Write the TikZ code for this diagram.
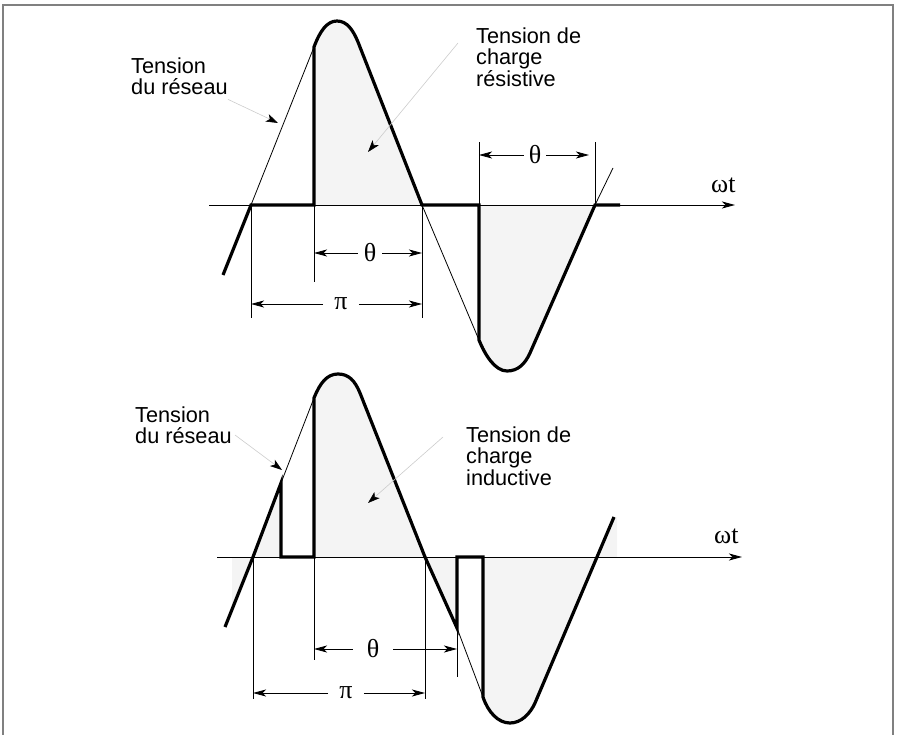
\documentclass[tikz,border=0pt]{standalone}
\usepackage{fontspec}
\setmainfont{Liberation Sans}
\newfontfamily\greekrm{Liberation Serif}
\usepackage{tikz}
\usetikzlibrary{arrows.meta}
\definecolor{lobe}{HTML}{f4f4f4}
\definecolor{framegray}{HTML}{808080}
\definecolor{leadgray}{HTML}{cccccc}

\begin{document}
\begin{tikzpicture}[x=1pt, y=-1pt,
  wave/.style={line width=3.2pt},
  net/.style={line width=0.8pt},
  tick/.style={line width=0.8pt},
  axis/.style={line width=0.9pt, -{Stealth[length=13pt,width=7pt,inset=3.5pt]}},
  dim/.style={line width=0.8pt, -{Stealth[length=13pt,width=7pt,inset=3.5pt]}},
  lead/.style={leadgray, line width=0.6pt, -{Stealth[length=12pt,width=8pt,inset=3pt,black]}},
  lbl/.style={font=\fontsize{21.7}{21.5}\selectfont, align=left, anchor=north west, inner sep=0pt},
  sym/.style={font=\greekrm\fontsize{26}{26}\selectfont, inner ysep=0pt}]
  \useasboundingbox (0,0) rectangle (897,735);

  % frame
  \draw[framegray, line width=1.5pt] (3,735) -- (3,5) -- (893,5) -- (893,735);

  % ---------------- resistive load (top) ----------------
  \coordinate (a0) at (223,275);
  \coordinate (z1) at (251,205);
  \coordinate (l1) at (314,47);
  \coordinate (r1) at (358,42);
  \coordinate (z2) at (422,205);
  \coordinate (l2) at (479,340);
  \coordinate (r2) at (530,353);
  \coordinate (z3) at (595,205);
  \coordinate (e3) at (613,168);

  % conducting lobes
  \fill[lobe] (314,205) -- (l1) .. controls (320,31) and (327,21) .. (337,21)
    .. controls (347,21) and (353,30) .. (r1) -- (z2) -- cycle;
  \fill[lobe] (479,205) -- (l2) .. controls (485,355) and (495,371) .. (507,371)
    .. controls (518,371) and (525,364) .. (r2) -- (z3) -- cycle;

  \draw[axis] (209,205) -- (735,205);
  \node[sym, anchor=base west, inner sep=0pt] (wtA) at (711,193) {ωt};

  % network voltage
  \draw[net] (z1) -- (l1);
  \draw[net] (z2) -- (l2);
  \draw[net] (z3) -- (e3);

  % load voltage
  \draw[wave] (a0) -- (z1) -- (314,205) -- (l1) .. controls (320,31) and (327,21) .. (337,21)
    .. controls (347,21) and (353,30) .. (r1) -- (z2) -- (479,205) -- (l2)
    .. controls (485,355) and (495,371) .. (507,371)
    .. controls (518,371) and (525,364) .. (r2) -- (z3) -- (620,205);

  % dimensions
  \draw[tick] (z1) -- (251,318);
  \draw[tick] (314,205) -- (314,282);
  \draw[tick] (z2) -- (422,318);
  \draw[tick] (479,205) -- (479,142);
  \draw[tick] (z3) -- (595,142);

  \node[sym, inner xsep=6pt] (thA) at (370,253) {θ};
  \draw[dim] (thA.west) -- (314,253);
  \draw[dim] (thA.east) -- (422,253);
  \node[sym, inner xsep=11pt] (piA) at (341,304) {π};
  \draw[dim] (piA.west) -- (251,304);
  \draw[dim] (piA.east) -- (422,304);
  \node[sym, inner xsep=5pt] (thB) at (535,155) {θ};
  \draw[dim] (thB.west) -- (479,155);
  \draw[dim] (thB.east) -- (589,155);

  % labels
  \node[lbl] (netA) at (131,57.5) {Tension\\du réseau};
  \node[lbl] (loadA) at (476,27.5) {Tension de\\charge\\résistive};
  \coordinate (netAtip) at (278,123);
  \coordinate (loadAfoot) at (458,43);
  \coordinate (loadAtip) at (368,152);
  \draw[lead] ([yshift=-4pt]netA.south east) -- (netAtip);
  \draw[lead] (loadAfoot) -- (loadAtip);

  % ---------------- inductive load (bottom) ----------------
  \coordinate (a0b) at (225,627);
  \coordinate (z1b) at (253,557);
  \coordinate (n1b) at (281,483);
  \coordinate (l1b) at (314,398);
  \coordinate (r1b) at (360,393);
  \coordinate (z2b) at (425,557);
  \coordinate (n2b) at (457,628);
  \coordinate (l2b) at (483,697);
  \coordinate (r2b) at (535,703);
  \coordinate (z3b) at (597,557);
  \coordinate (e3b) at (614,517);

  % conducting lobes
  \fill[lobe] (232,557) -- (z1b) -- (232,609) -- cycle;
  \fill[lobe] (z1b) -- (n1b) -- (281,557) -- cycle;
  \fill[lobe] (314,557) -- (l1b) .. controls (320,383) and (327,374) .. (338,374)
    .. controls (349,374) and (355,381) .. (r1b) -- (z2b) -- cycle;
  \fill[lobe] (z2b) -- (n2b) -- (457,557) -- cycle;
  \fill[lobe] (483,557) -- (l2b) .. controls (488,712) and (498,723) .. (510,723)
    .. controls (521,723) and (530,714) .. (r2b) -- (z3b) -- cycle;
  \fill[lobe] (z3b) -- (e3b) -- (617,517) -- (617,557) -- cycle;

  \draw[axis] (217,557) -- (742,557);
  \node[sym, anchor=base west, inner sep=0pt] (wtB) at (714,543) {ωt};

  % network voltage
  \draw[net] (n1b) -- (l1b);
  \draw[net] (n2b) -- (l2b);

  % load voltage
  \draw[wave] (a0b) -- (z1b) -- (n1b) -- (281,557) -- (314,557) -- (l1b)
    .. controls (320,383) and (327,374) .. (338,374)
    .. controls (349,374) and (355,381) .. (r1b) -- (z2b) -- (n2b) -- (457,557) -- (483,557) -- (l2b)
    .. controls (488,712) and (498,723) .. (510,723)
    .. controls (521,723) and (530,714) .. (r2b) -- (z3b) -- (e3b);

  % dimensions
  \draw[tick] (z1b) -- (253,699);
  \draw[tick] (314,557) -- (314,660);
  \draw[tick] (z2b) -- (425,699);
  \draw[tick] (n2b) -- (457,677);

  \node[sym, inner xsep=14pt] (thC) at (373,649) {θ};
  \draw[dim] (thC.west) -- (314,649);
  \draw[dim] (thC.east) -- (457,649);
  \node[sym, inner xsep=11pt] (piB) at (346,693) {π};
  \draw[dim] (piB.west) -- (253,693);
  \draw[dim] (piB.east) -- (425,693);

  % labels
  \node[lbl] (netB) at (135,406.5) {Tension\\du réseau};
  \node[lbl] (loadB) at (466,426.5) {Tension de\\charge\\inductive};
  \coordinate (netBfoot) at (235,435);
  \coordinate (netBtip) at (282,470);
  \coordinate (loadBfoot) at (443,437);
  \coordinate (loadBtip) at (368,503);
  \draw[lead] (netBfoot) -- (netBtip);
  \draw[lead] (loadBfoot) -- (loadBtip);
\end{tikzpicture}
\end{document}
